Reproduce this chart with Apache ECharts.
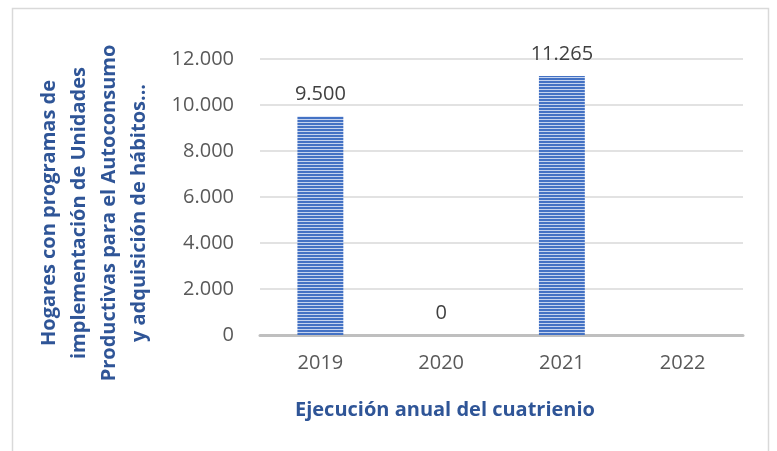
<!DOCTYPE html>
<html>
<head>
<meta charset="utf-8">
<script src="https://cdn.jsdelivr.net/npm/echarts@6/dist/echarts.min.js"></script>
<style>
html,body{margin:0;padding:0;background:#fff;}
#chart{width:777px;height:451px;}
</style>
</head>
<body>
<div id="chart"></div>
<script>
const categories = ['2019', '2020', '2021', '2022'];
const values = [9500, 0, 11265, null];
const yTicks = [0, 2000, 4000, 6000, 8000, 10000, 12000];
const yTitle = 'Hogares con programas de\nimplementación de Unidades\nProductivas para el Autoconsumo\ny adquisición de hábitos...';
const xTitle = 'Ejecución anual del cuatrienio';

function fmt(v) {
  return String(v).replace(/\B(?=(\d{3})+(?!\d))/g, '.');
}

const pc = document.createElement('canvas');
pc.width = 4; pc.height = 3;
const ctx = pc.getContext('2d');
ctx.fillStyle = '#4472c4';
ctx.fillRect(0, 0, 4, 2);
ctx.fillStyle = '#c5d3ee';
ctx.fillRect(0, 2, 4, 1);

const chart = echarts.init(document.getElementById('chart'), null, {renderer: 'canvas'});
chart.setOption({
  animation: false,
  backgroundColor: '#ffffff',
  grid: {left: 260, right: 34, top: 59, bottom: 116, containLabel: false},
  graphic: [
    {type: 'rect', shape: {x: 12.5, y: 8.5, width: 756, height: 460}, style: {fill: 'none', stroke: '#d9d9d9', lineWidth: 1.5}},
    {type: 'text', x: 94, y: 213, rotation: Math.PI / 2,
     style: {text: yTitle, fill: '#2f5597', font: 'bold 20px "Open Sans"', align: 'center', verticalAlign: 'middle', lineHeight: 30}},
    {type: 'text', x: 445, y: 410,
     style: {text: xTitle, fill: '#2f5597', font: 'bold 20px "Open Sans"', align: 'center', verticalAlign: 'middle'}}
  ],
  xAxis: {
    type: 'category',
    data: categories,
    axisLine: {lineStyle: {color: '#bfbfbf', width: 3}},
    axisTick: {show: false},
    axisLabel: {color: '#595959', fontSize: 20, fontFamily: 'Open Sans', margin: 18}
  },
  yAxis: {
    type: 'value',
    min: yTicks[0],
    max: yTicks[yTicks.length - 1],
    interval: 2000,
    axisLine: {show: false},
    axisTick: {show: false},
    splitLine: {lineStyle: {color: '#d9d9d9', width: 1.5}},
    axisLabel: {color: '#595959', fontSize: 20, fontFamily: 'Open Sans', margin: 26, formatter: fmt}
  },
  series: [{
    type: 'bar',
    data: values,
    barCategoryGap: '62%',
    itemStyle: {color: {image: pc, repeat: 'repeat'}},
    label: {show: true, position: 'top', distance: 12, color: '#404040', fontSize: 20, fontFamily: 'Open Sans',
      formatter: p => fmt(p.value)}
  }]
});
</script>
</body>
</html>
